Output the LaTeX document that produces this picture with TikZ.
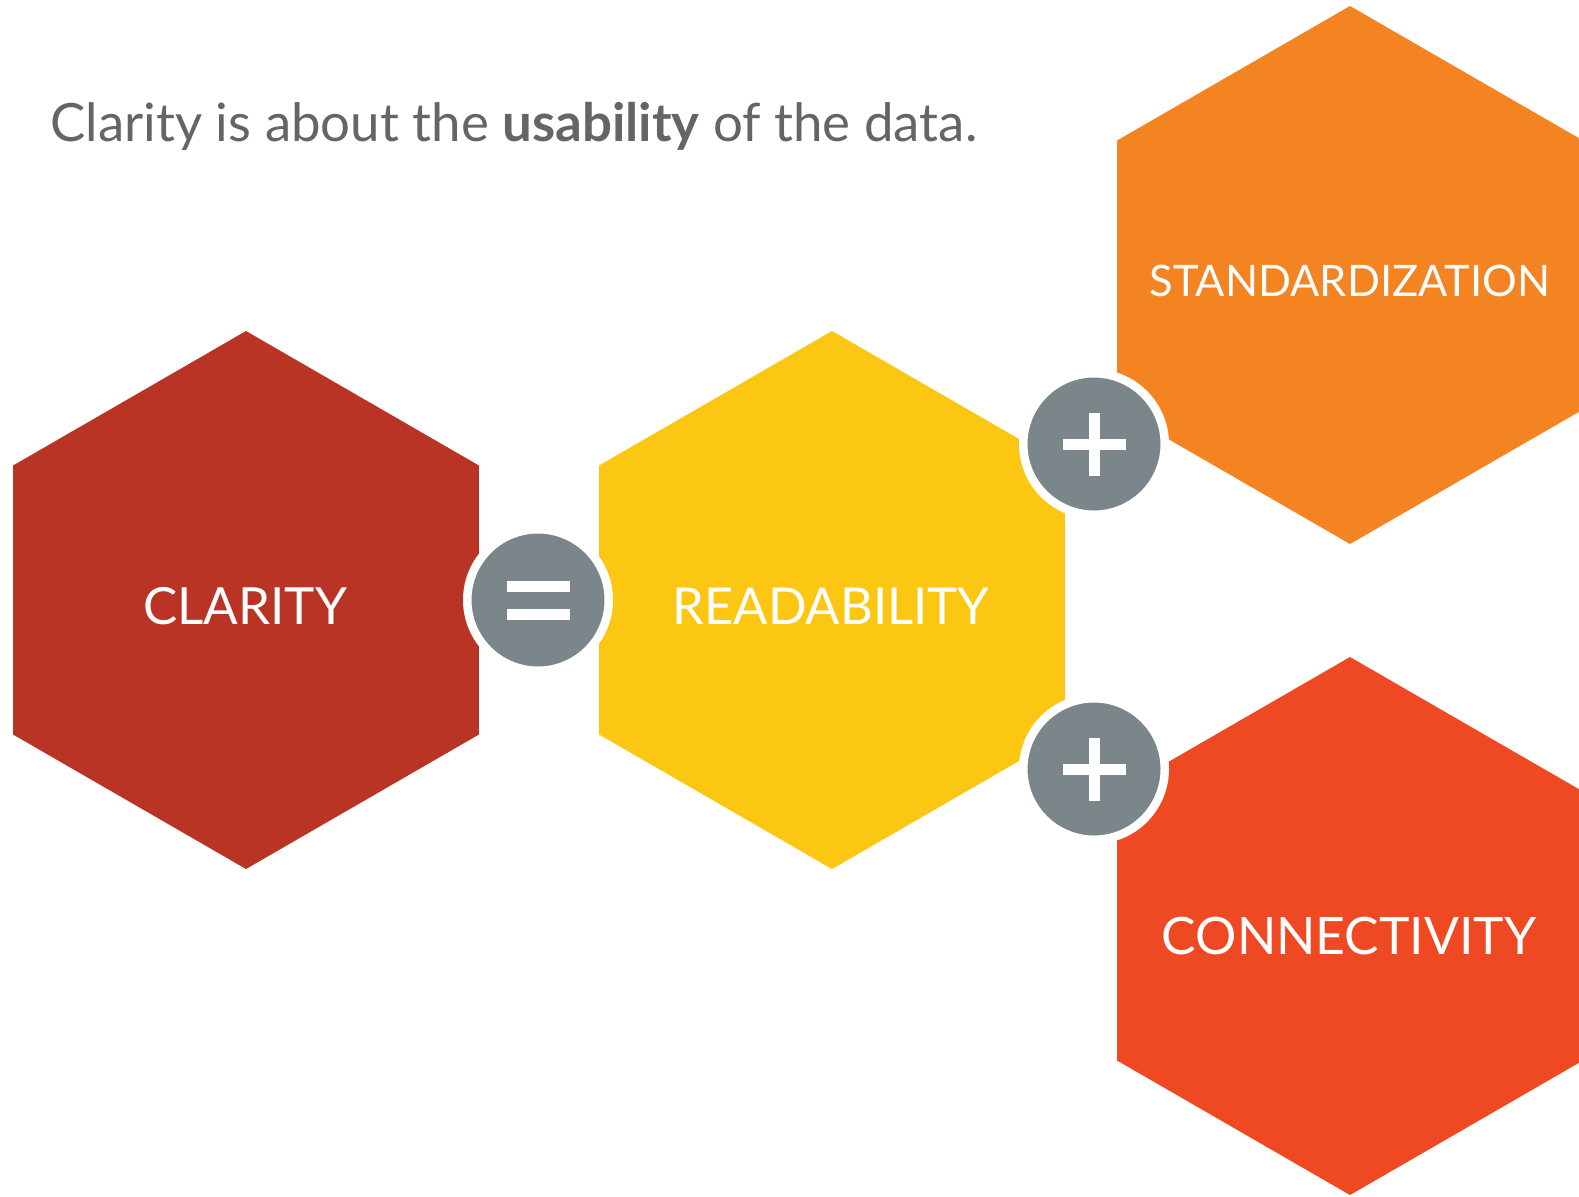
\documentclass[tikz,border=0pt]{standalone}
\usepackage{fontspec}
\setmainfont{Lato}
\definecolor{brique}{HTML}{BA3426}
\definecolor{jaune}{HTML}{FCC712}
\definecolor{orangeclair}{HTML}{F48322}
\definecolor{vermillon}{HTML}{EF4923}
\definecolor{ardoise}{HTML}{7A8689}
\definecolor{texte}{HTML}{646567}
\begin{document}
\begin{tikzpicture}[x=0.5pt,y=-0.5pt,
    rond/.style={circle,fill=ardoise,draw=white,line width=4.25pt,minimum size=70.75pt,inner sep=0pt},
    etiquette/.style={text=white,anchor=base,inner sep=0pt}]
  \def\hexpath{+(90:269) -- +(30:269) -- +(-30:269) -- +(-90:269) -- +(-150:269) -- +(150:269) -- cycle}
  \useasboundingbox (0,0) rectangle (1579,1196);
  \clip (0,0) rectangle (1579,1196);
  \node[anchor=base west,inner sep=0pt,text=texte,font=\fontsize{26.4}{31}\selectfont] (titre) at (50,141)
    {Clarity is about the \textbf{usability} of the data.};
  % les quatre hexagones
  \foreach \nom/\x/\y/\coul in {clarity/246/600/brique, readability/832/600/jaune,
      standard/1350/275/orangeclair, connect/1350/926/vermillon}
    \fill[\coul] (\x,\y) coordinate (\nom) \hexpath;
  \node[etiquette,font=\fontsize{25.6}{29}\selectfont] (t-clarity) at (245,624) {CLARITY};
  \node[etiquette,font=\fontsize{25.4}{29}\selectfont] (t-readability) at (831,624) {READABILITY};
  \node[etiquette,font=\fontsize{21.7}{25}\selectfont] (t-standard) at (1350,296) {STANDARDIZATION};
  \node[etiquette,font=\fontsize{25.8}{29}\selectfont] (t-connect) at (1349,954) {CONNECTIVITY};
  % les ronds gris avec = et +
  \node[rond] (egal) at (538,600) {};
  \node[rond] (plus1) at (1094,444) {};
  \node[rond] (plus2) at (1094,769) {};
  \fill[white] (egal) ++(-31.5,-19.5) rectangle ++(63,11);
  \fill[white] (egal) ++(-31.5,8.5) rectangle ++(63,11);
  \foreach \p in {plus1,plus2}{
    \fill[white] (\p) ++(-31.5,-5.5) rectangle ++(63,11);
    \fill[white] (\p) ++(-5.5,-31.5) rectangle ++(11,63);
  }
\end{tikzpicture}
\end{document}
